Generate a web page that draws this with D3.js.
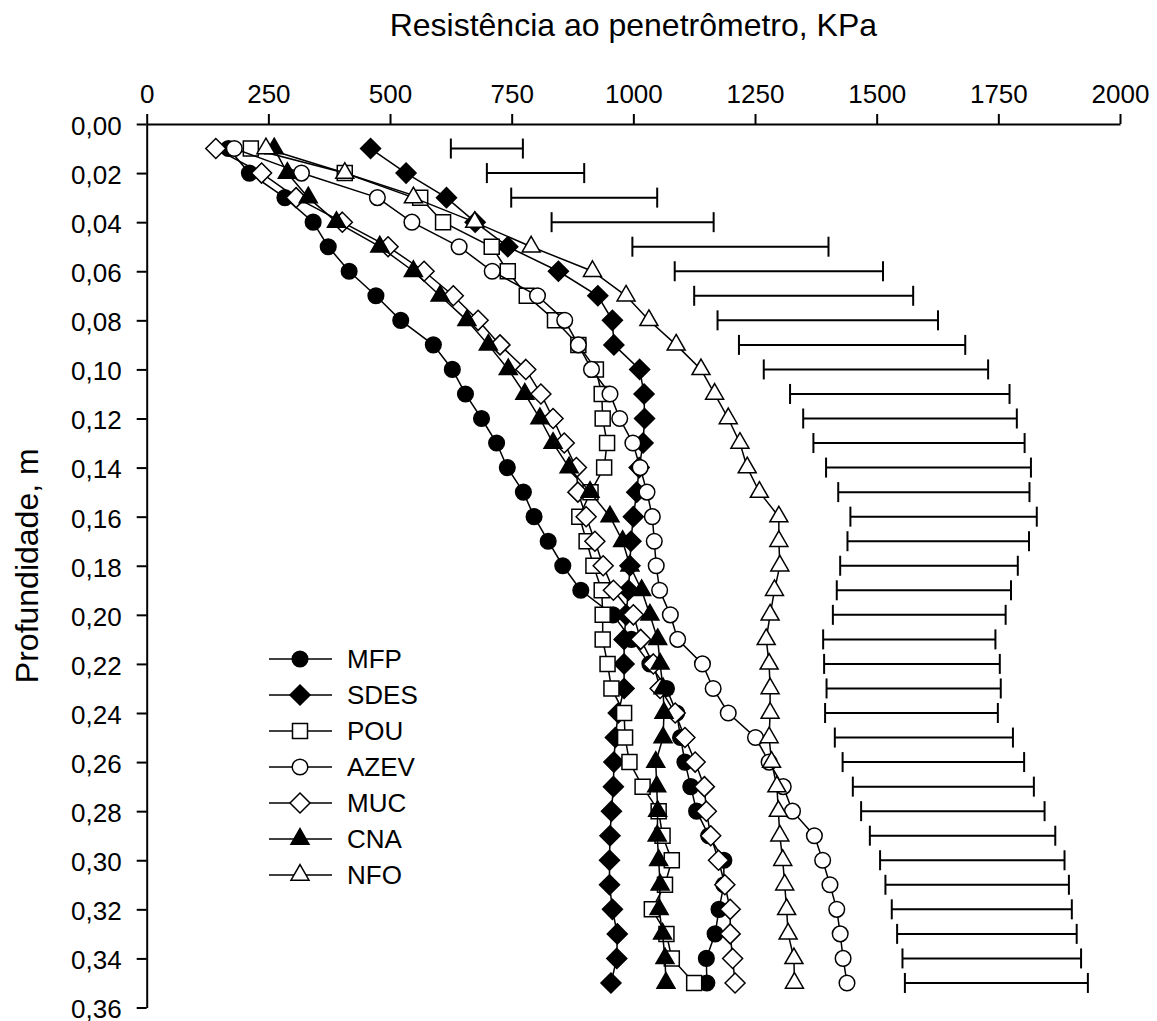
<!DOCTYPE html>
<html>
<head>
<meta charset="utf-8">
<style>
  body { margin: 0; background: #fff; }
  text { font-family: 'Liberation Sans', Arial, sans-serif; fill: #000; }
</style>
</head>
<body>
<div id="chart"></div>
<script src="https://d3js.org/d3.v7.min.js"></script>
<script>
// depth (m) of each reading
var depth = [0.01,0.02,0.03,0.04,0.05,0.06,0.07,0.08,0.09,0.10,0.11,0.12,0.13,0.14,0.15,0.16,0.17,0.18,
             0.19,0.20,0.21,0.22,0.23,0.24,0.25,0.26,0.27,0.28,0.29,0.30,0.31,0.32,0.33,0.34,0.35];

// resistance (KPa) per treatment
var mfp  = [168,211,284,342,373,416,471,522,589,628,655,688,719,741,774,796,825,855,
            892,958,996,1034,1068,1089,1097,1106,1118,1130,1155,1186,1186,1176,1168,1150,1151];
var sdes = [460,533,616,675,742,846,927,957,960,1013,1022,1023,1020,1012,1007,1000,995,993,
            990,985,981,981,981,969,963,960,959,955,952,951,951,957,967,966,954];
var pou  = [214,407,562,609,709,742,781,839,887,923,935,937,946,940,912,889,904,918,
            935,937,937,947,955,981,983,992,1019,1052,1060,1079,1065,1038,1068,1079,1125];
var azev = [180,318,474,545,642,710,803,859,887,914,952,972,999,1014,1028,1039,1043,1047,
            1054,1076,1091,1142,1164,1195,1251,1279,1308,1327,1372,1389,1404,1418,1425,1431,1439];
var muc  = [142,236,307,402,496,570,630,681,726,779,810,835,858,883,886,903,921,938,
            959,1000,1015,1041,1055,1086,1106,1127,1146,1150,1159,1175,1188,1199,1199,1204,1209];
var cna  = [262,289,332,390,479,548,603,658,702,743,777,808,835,868,911,952,978,993,
            1017,1034,1050,1055,1061,1063,1061,1046,1048,1050,1049,1052,1055,1053,1060,1065,1067];
var nfo  = [245,407,548,674,790,916,985,1032,1088,1139,1167,1195,1219,1234,1259,1299,1299,1301,
            1290,1281,1273,1279,1281,1281,1279,1284,1295,1298,1301,1307,1311,1315,1318,1330,1331];

// range bars (KPa)
var barLow  = [625,699,749,832,998,1085,1125,1173,1217,1268,1322,1349,1370,1396,1421,1446,1440,1425,
               1418,1410,1390,1392,1397,1394,1414,1430,1451,1468,1486,1507,1518,1531,1542,1553,1558];
var barHigh = [773,899,1049,1165,1401,1513,1575,1626,1682,1729,1773,1788,1804,1817,1814,1829,1813,1790,
               1776,1765,1744,1753,1755,1749,1780,1803,1823,1845,1867,1886,1895,1901,1911,1920,1934];

var xTicks = [0,250,500,750,1000,1250,1500,1750,2000];
var yTicks = [0,0.02,0.04,0.06,0.08,0.10,0.12,0.14,0.16,0.18,0.20,0.22,0.24,0.26,0.28,0.30,0.32,0.34,0.36];

var seriesNames = ['MFP','SDES','POU','AZEV','MUC','CNA','NFO'];
var seriesValues = [mfp, sdes, pou, azev, muc, cna, nfo];
var seriesShape = ['circle','diamond','square','circle','diamond','triangle','triangle'];
var seriesFilled = [true, true, false, false, false, true, false];

var width = 1157, height = 1021;

var x = d3.scaleLinear().domain([0, 2000]).range([146.7, 1120]);
var y = d3.scaleLinear().domain([0, 0.36]).range([124, 1007.5]);

// marker shapes, size = linear dimension
var shapes = {
  circle: { draw: function (c, s) { c.moveTo(s, 0); c.arc(0, 0, s, 0, 2 * Math.PI); } },
  square: { draw: function (c, s) { c.rect(-s, -s, 2 * s, 2 * s); } },
  diamond: { draw: function (c, s) { c.moveTo(0, -s); c.lineTo(s, 0); c.lineTo(0, s); c.lineTo(-s, 0); c.closePath(); } },
  triangle: { draw: function (c, s) {
    var h = s * Math.sqrt(3) / 2;
    c.moveTo(0, -2 * h / 3); c.lineTo(s / 2, h / 3); c.lineTo(-s / 2, h / 3); c.closePath();
  } }
};
var shapeSize = { circle: 7.8, square: 7.5, diamond: 10, triangle: 18 };

function marker(shape) {
  return d3.symbol().type(shapes[shape]).size(shapeSize[shape])();
}

var svg = d3.select('#chart').append('svg')
  .attr('width', width)
  .attr('height', height)
  .style('background', '#fff');

// axes
var xAxis = d3.axisTop(x).tickValues(xTicks).tickSize(10).tickSizeOuter(0).tickPadding(11)
  .tickFormat(function (d) { return d; });
var gx = svg.append('g').attr('transform', 'translate(0,' + y(0) + ')').call(xAxis);

var yAxis = d3.axisLeft(y).tickValues(yTicks).tickSize(10).tickSizeOuter(0).tickPadding(15)
  .tickFormat(function (d) { return d3.format('.2f')(d).replace('.', ','); });
var gy = svg.append('g').attr('transform', 'translate(' + x(0) + ',0)').call(yAxis);

[gx, gy].forEach(function (g) {
  g.selectAll('path, line').attr('stroke', '#000').attr('stroke-width', 2);
  g.selectAll('text').style('font-family', "'Liberation Sans', Arial, sans-serif")
    .style('font-size', '26px').attr('fill', '#000');
});
gy.selectAll('text').attr('dy', '0.4em');

svg.append('text')
  .attr('x', (x(0) + x(2000)) / 2)
  .attr('y', 36)
  .attr('text-anchor', 'middle')
  .style('font-size', '32px')
  .text('Resistência ao penetrômetro, KPa');

svg.append('text')
  .attr('transform', 'translate(38,' + ((y(0) + y(0.36)) / 2) + ') rotate(-90)')
  .attr('text-anchor', 'middle')
  .style('font-size', '32px')
  .text('Profundidade, m');

// range bars
var bars = svg.append('g').attr('stroke', '#000').attr('stroke-width', 2);
depth.forEach(function (d, i) {
  bars.append('line').attr('x1', x(barLow[i])).attr('x2', x(barHigh[i])).attr('y1', y(d)).attr('y2', y(d));
  bars.append('line').attr('x1', x(barLow[i])).attr('x2', x(barLow[i])).attr('y1', y(d) - 10).attr('y2', y(d) + 10);
  bars.append('line').attr('x1', x(barHigh[i])).attr('x2', x(barHigh[i])).attr('y1', y(d) - 10).attr('y2', y(d) + 10);
});

// series
var line = d3.line()
  .x(function (d) { return x(d[0]); })
  .y(function (d) { return y(d[1]); });

seriesNames.forEach(function (name, k) {
  var pts = depth.map(function (d, i) { return [seriesValues[k][i], d]; });
  var g = svg.append('g');
  g.append('path')
    .attr('d', line(pts))
    .attr('fill', 'none')
    .attr('stroke', '#000')
    .attr('stroke-width', 1.5);
  g.selectAll('path.m')
    .data(pts)
    .enter().append('path')
    .attr('class', 'm')
    .attr('d', marker(seriesShape[k]))
    .attr('transform', function (d) { return 'translate(' + x(d[0]) + ',' + y(d[1]) + ')'; })
    .attr('fill', seriesFilled[k] ? '#000' : '#fff')
    .attr('stroke', '#000')
    .attr('stroke-width', 1.5);
});

// legend
var legend = svg.append('g').attr('transform', 'translate(269,659)');
seriesNames.forEach(function (name, k) {
  var row = legend.append('g').attr('transform', 'translate(0,' + (k * 36) + ')');
  row.append('line').attr('x1', 0).attr('x2', 63).attr('y1', 0).attr('y2', 0)
    .attr('stroke', '#000').attr('stroke-width', 1.5);
  row.append('path')
    .attr('d', marker(seriesShape[k]))
    .attr('transform', 'translate(31,0)')
    .attr('fill', seriesFilled[k] ? '#000' : '#fff')
    .attr('stroke', '#000')
    .attr('stroke-width', 1.5);
  row.append('text')
    .attr('x', 78)
    .attr('y', 9)
    .style('font-size', '26px')
    .text(name);
});
</script>
</body>
</html>
